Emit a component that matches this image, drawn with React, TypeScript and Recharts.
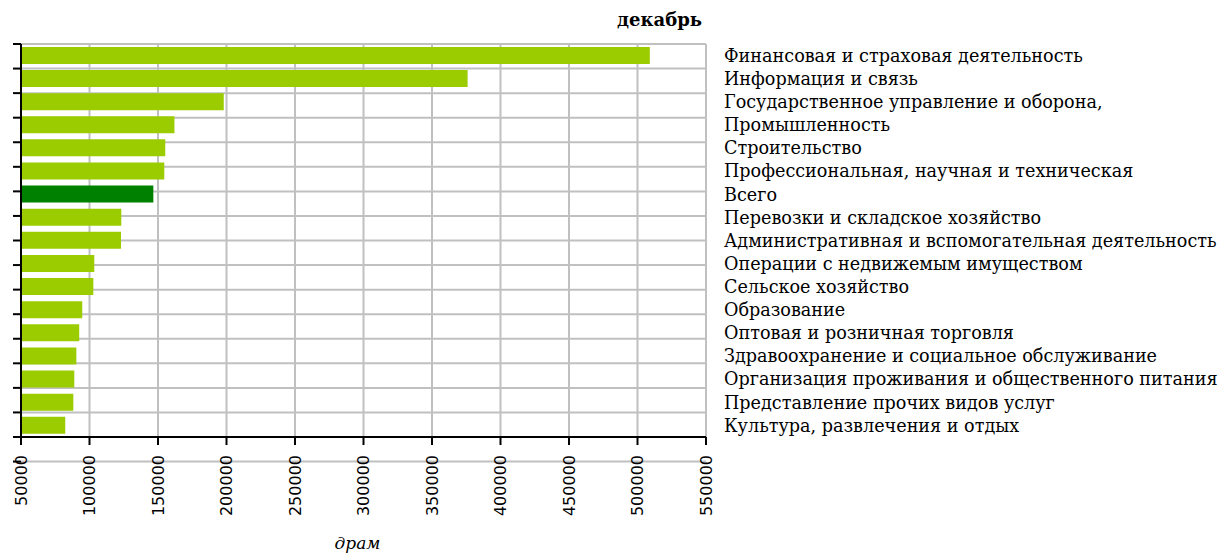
import React from 'react';
import { BarChart, Bar, XAxis, YAxis, CartesianGrid, Cell } from 'recharts';

const categories = [
  'Финансовая и страховая деятельность',
  'Информация и связь',
  'Государственное управление и оборона,',
  'Промышленность',
  'Строительство',
  'Профессиональная, научная и техническая',
  'Всего',
  'Перевозки и складское хозяйство',
  'Административная и вспомогательная деятельность',
  'Операции с недвижемым имуществом',
  'Сельское хозяйство',
  'Образование',
  'Оптовая и розничная торговля',
  'Здравоохранение и социальное обслуживание',
  'Организация проживания и общественного питания',
  'Представление прочих видов услуг',
  'Культура, развлечения и отдых',
];

const values = [
  509000, 376000, 198000, 162000, 155300, 154600, 146600, 123200, 123000,
  103500, 102800, 94700, 92500, 90400, 88900, 88200, 82300,
];

const totalLabel = 'Всего';
const xTicks = [50000, 100000, 150000, 200000, 250000, 300000, 350000, 400000, 450000, 500000, 550000];
const boundaryTicks = [0, 1, 2, 3, 4, 5, 6, 7, 8, 9, 10, 11, 12, 13, 14, 15, 16, 17];
const title = 'декабрь';
const xLabel = 'драм';

const data = categories.map((name, i) => ({ name, value: values[i] }));

const BAR = '#9BCC00';
const TOTAL = '#008000';
const GRID = '#C0C0C0';
const SERIF = '"DejaVu Serif", serif';

const XTick = (props: any) => {
  const { x, y, payload } = props;
  return (
    <text
      x={x}
      y={y}
      transform={`rotate(-90 ${x} ${y})`}
      textAnchor="end"
      dominantBaseline="central"
      fontFamily='"DejaVu Sans", sans-serif'
      fontSize={16}
      fill="#000"
    >
      {payload.value}
    </text>
  );
};

export default function App() {
  return (
    <div style={{ position: 'absolute', left: 0, top: 0, width: 1221, height: 555, background: '#fff' }}>
      <div
        style={{
          position: 'absolute',
          right: 1221 - 702,
          top: 8,
          fontFamily: SERIF,
          fontWeight: 'bold',
          fontSize: 18,
          lineHeight: '24px',
          color: '#000',
        }}
      >
        {title}
      </div>
      <BarChart
        width={1221}
        height={555}
        data={data}
        layout="vertical"
        margin={{ top: 44, right: 0, bottom: 0, left: 7 }}
        barCategoryGap="12.5%"
      >
        <CartesianGrid
          stroke={GRID}
          strokeWidth={2}
          yAxisId="b"
          xAxisId="x"
        />
        <XAxis
          xAxisId="x"
          type="number"
          domain={[50000, 550000]}
          ticks={xTicks}
          allowDataOverflow
          axisLine={{ stroke: '#000', strokeWidth: 2 }}
          tickLine={{ stroke: '#000', strokeWidth: 2 }}
          tickSize={8}
          tickMargin={10}
          height={118}
          interval={0}
          tick={<XTick />}
          label={{
            value: xLabel,
            position: 'insideBottom',
            offset: 6,
            dx: -6,
            fontFamily: SERIF,
            fontStyle: 'italic',
            fontSize: 17,
            fill: '#000',
          }}
        />
        <YAxis
          yAxisId="b"
          type="number"
          orientation="left"
          domain={[0, 17]}
          ticks={boundaryTicks}
          allowDataOverflow
          interval={0}
          width={14}
          axisLine={{ stroke: '#000', strokeWidth: 2 }}
          tickLine={{ stroke: '#000', strokeWidth: 2 }}
          tickSize={8}
          tickFormatter={() => ''}
        />
        <YAxis
          yAxisId="cat"
          type="category"
          dataKey="name"
          orientation="right"
          width={515}
          interval={0}
          axisLine={false}
          tickLine={false}
          tickSize={0}
          tickMargin={18}
          tick={{ fill: '#000', fontFamily: SERIF, fontSize: 17.6, textAnchor: 'start' }}
        />
        <Bar dataKey="value" xAxisId="x" yAxisId="cat" isAnimationActive={false}>
          {data.map((d) => (
            <Cell key={d.name} fill={d.name === totalLabel ? TOTAL : BAR} />
          ))}
        </Bar>
      </BarChart>
    </div>
  );
}
